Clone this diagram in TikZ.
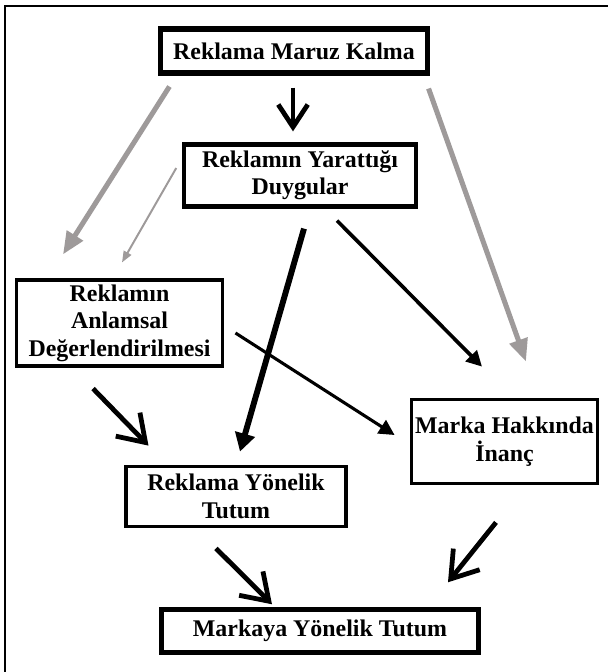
\documentclass[tikz,border=0pt]{standalone}
\usepackage{fontspec}
\setmainfont{Liberation Serif}
\usetikzlibrary{arrows.meta,calc}

\definecolor{arrowgray}{RGB}{158,154,154}

\begin{document}
\begin{tikzpicture}[
  x=0.025cm, y=-0.025cm,
  font=\bfseries\fontsize{17}{19.5}\selectfont,
  box/.style={draw=black, line width=2.4pt, fill=white, inner sep=0pt, align=center},
  heavybox/.style={box, line width=3.6pt},
  grayflow/.style={-{Triangle[length=16pt, width=13pt]}, line width=3.6pt, draw=arrowgray},
  thingray/.style={-{Triangle[length=8pt, width=6pt]}, line width=1.4pt, draw=arrowgray},
  flow/.style={-{Triangle[length=11pt, width=11pt]}, line width=2.6pt},
  heavyflow/.style={-{Triangle[length=13pt, width=14pt]}, line width=4.2pt},
  barb/.style={-{Straight Barb[length=18pt, width=24pt]}, line width=3.4pt}
]

\useasboundingbox (0,0) rectangle (608,672);

% frame (only top and left edge are visible)
\draw[line width=1.5pt] (5,672) -- (5,6) -- (608,6);

% boxes
\node[heavybox, minimum width=6.65cm, minimum height=1.1cm] (expo) at (294,51) {Reklama Maruz Kalma};
\node[box, line width=3pt, minimum width=5.78cm, minimum height=1.55cm] (feel) at (300,175.5) {Reklamın Yarattığı\\Duygular};
\node[box, line width=2.2pt, minimum width=5.17cm, minimum height=2.15cm] (sem) at (119.5,323) {Reklamın\\Anlamsal\\Değerlendirilmesi};
\node[box, minimum width=4.66cm, minimum height=2.11cm] (belief) at (504.5,441.5) {Marka Hakkında\\İnanç};
\node[box, minimum width=5.49cm, minimum height=1.51cm] (adatt) at (236,496.5) {Reklama Yönelik\\Tutum};
\node[heavybox, minimum width=7.91cm, minimum height=1.06cm] (brandatt) at (320,631) {Markaya Yönelik Tutum};

% gray links
\draw[grayflow] ($(expo.south west)+(11,11)$) -- ($(sem.north)+(-56.5,-24)$);
\draw[thingray] ($(feel.west)+(-6,-7.5)$) -- ($(sem.north)+(2.5,-16)$);
\draw[grayflow] ($(expo.south east)+(-1,13)$) -- ($(belief.north)+(21.5,-36)$);

% black links
\draw[barb, -{Straight Barb[length=16pt, width=21pt]}] ($(expo.south)+(-1,12)$) -- ($(feel.north)+(-7,-11)$);
\draw[heavyflow] ($(feel.south)+(4,20)$) -- ($(adatt.north)+(4,-13)$);
\draw[flow] ($(feel.south)+(37,12)$) -- ($(belief.north)+(-22.5,-31)$);
\draw[flow, line width=2.2pt] ($(sem.east)+(11,10)$) -- ($(belief.west)+(-15,-6.5)$);
\draw[barb] ($(sem.south)+(-26.5,21)$) -- ($(adatt.north west)+(24,-19)$);
\draw[barb] ($(adatt.south)+(-20,20)$) -- ($(brandatt.north)+(-48,-3)$);
\draw[barb] ($(belief.south)+(-8.5,37)$) -- ($(brandatt.north)+(128,-25)$);

\end{tikzpicture}
\end{document}
